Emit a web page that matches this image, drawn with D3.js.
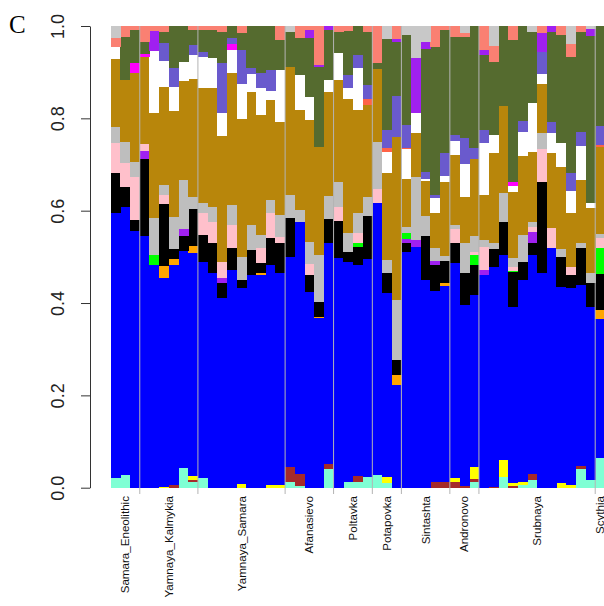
<!DOCTYPE html>
<html><head><meta charset="utf-8">
<script src="https://cdn.jsdelivr.net/npm/d3@7/dist/d3.min.js"></script>
<style>body{margin:0;background:#fff}svg{display:block}</style>
</head><body>
<svg id="chart" width="604" height="606"></svg>
<script>
// ---- data ----
const groupNames = ["Samara_Eneolithic","Yamnaya_Kalmykia","Yamnaya_Samara","Afanasievo","Poltavka","Potapovka","Sintashta","Andronovo","Srubnaya","Scythia"];
const groupSizes = [3,6,9,5,4,3,5,3,12,1];
const yTicks = [0,0.2,0.4,0.6,0.8,1.0];

const componentKeys = ["aqua","brown","yellow","blue","orange","black","purple","green","pink","gray","gold","white","magenta","tomato","slateblue","olive","purple2","salmon","gray2"];
const componentColors = ["#7FFFD4","#A52A2A","#FFFF00","#0000FF","#FFA500","#000000","#A020F0","#00FF00","#FFC0CB","#BEBEBE","#B8860B","#FFFFFF","#FF00FF","#FF6347","#6A5ACD","#556B2F","#A020F0","#FA8072","#C8C8C8"];

const aqua =      [.022,.028,0,0,0,0,0,.043,.013,.020,0,0,0,0,0,0,0,0,.012,.004,0,0,.040,0,.013,.013,.023,.028,.010,0,0,0,0,0,0,0,0,.013,0,0,.024,0,.006,.017,0,0,0,0,.040,.017,.064];
const brown =     [0,0,0,0,0,0,.006,0,.004,0,0,0,0,0,0,0,0,0,.032,.025,0,0,.011,0,0,.012,0,0,0,0,0,0,0,.013,.013,.013,.004,.005,0,.002,0,.004,0,.013,0,0,0,0,.006,0,0];
const yellow =    [0,0,0,0,0,.002,0,0,.009,0,0,0,0,.009,0,0,.006,.006,0,0,0,0,0,0,0,0,0,0,.014,0,0,0,0,0,0,.007,0,.027,0,0,.035,.007,.007,0,0,0,.011,.006,0,0,0];
const blue =      [.574,.581,.557,.545,.482,.452,.477,.470,.482,.469,.464,.410,.472,.425,.461,.461,.477,.459,.456,.546,.425,.367,.480,.497,.476,.457,.472,.588,.397,.222,.509,.521,.450,.414,.424,.466,.392,.372,.461,.476,.446,.381,.437,.474,.464,.519,.423,.428,.394,.374,.301];
const orange =    [0,0,0,0,0,.027,.012,0,.014,0,0,0,0,0,0,.004,0,0,0,0,0,.002,0,0,0,0,0,0,0,.022,0,0,0,0,.006,0,0,0,0,0,0,0,0,0,0,0,0,0,0,0,.020];
const black =     [.087,.043,.023,.167,0,.133,.023,.032,.082,.058,.065,.032,.047,.016,.054,.022,.058,.065,.083,0,.036,.034,.050,.079,.022,.040,.092,0,.043,.032,.020,0,.094,.056,.047,.045,.069,.065,0,.040,.072,.075,.040,.025,.198,0,.066,.027,.079,.052,.079];
const purple =    [0,0,0,.016,0,0,0,.015,0,0,0,.011,0,0,0,0,0,0,0,0,0,0,0,0,0,0,0,0,0,0,.009,.016,0,.009,0,0,0,0,.011,0,0,0,0,.025,0,0,0,0,0,0,0];
const green =     [0,0,0,0,.022,0,0,0,0,0,0,0,0,0,0,0,0,0,0,0,0,0,0,0,0,.009,0,0,0,0,.013,0,0,0,0,0,0,.022,0,0,0,.003,0,0,0,0,0,0,0,0,.055];
const pink =      [.064,.051,.094,.016,0,.020,0,0,0,.047,.046,.036,.050,0,0,.032,.054,.014,0,0,.025,0,0,.032,0,.020,0,.030,0,0,0,0,0,0,0,.029,0,.007,.050,0,0,.009,0,.011,.072,.043,0,.017,0,0,.022];
const gray =      [.036,.047,.032,0,.079,.022,.069,.105,.025,.022,.032,0,.043,.050,.054,.029,.029,.047,.050,.025,.047,.101,.050,.054,.040,.043,.043,.103,.029,.130,.014,.137,.043,.027,.011,.009,.065,.034,.015,.011,.062,.018,.058,.011,.034,0,.018,0,.011,.022,.010];
const gold =      [.146,.135,.193,.188,.227,.213,.229,.214,.255,.249,.258,.271,.285,.300,.289,.260,.217,.202,.278,.217,.264,.235,.227,.220,.290,.225,.199,.157,.188,.352,.103,.094,.076,.076,.162,.152,.100,.168,.097,.195,.189,.144,.171,.152,.107,.162,.177,.117,.137,.141,.188];
const white =     [.027,0,0,0,.135,.056,.053,.042,.052,.067,.065,.051,.050,.076,.040,.058,.018,.112,0,.076,.050,0,.025,.058,.024,.089,0,0,.047,0,.065,.045,.005,.032,.012,.031,.072,0,.113,.040,0,.013,.053,.105,.022,.045,.051,.049,.074,.012,0];
const magenta =   [0,0,.020,.007,0,0,0,0,0,0,0,0,.013,0,0,0,0,0,0,0,0,0,0,0,0,0,0,0,0,0,0,0,0,0,0,0,0,0,0,0,0,.009,0,0,0,0,0,0,0,0,0];
const tomato =    [0,0,0,0,0,0,0,0,0,0,0,0,0,0,0,0,0,0,0,0,0,0,0,0,0,0,.011,0,.007,0,.003,0,0,0,0,0,0,0,0,0,0,0,0,0,0,0,0,0,0,0,.004];
const slateblue = [0,0,0,0,0,.040,.040,0,.022,.012,0,.108,.012,.074,.011,.032,.047,0,0,0,0,0,0,0,.029,.029,.032,0,.040,.089,.049,0,.016,.007,.049,.012,.056,.022,.028,0,0,0,.022,0,.047,.022,0,.039,.031,0,.041];
const olive =     [0,.092,.072,.025,0,.023,.092,.078,.032,.047,.061,.068,.027,.035,.092,.102,.095,.065,.076,.079,.129,.172,.108,.047,.095,.063,.115,.014,.196,.118,.195,0,.265,.321,.267,.213,.220,.265,.162,.159,.173,.307,.207,.155,0,.197,.235,.250,.217,.361,.217];
const purple2 =   [0,0,0,0,.043,0,0,0,0,0,0,0,0,0,0,0,0,0,0,0,.016,.005,.009,0,0,0,0,0,0,.005,0,.118,.016,0,0,0,0,0,.011,0,0,0,0,0,.040,.012,0,0,0,.015,0];
const salmon =    [.018,.024,.009,.035,.011,.013,0,0,.009,.009,.009,.012,0,.016,0,0,0,.030,0,.027,.009,.084,0,.012,.011,0,.012,.079,0,.029,0,0,0,.045,.009,.023,.007,0,.052,.034,0,.030,0,0,.016,0,.019,.029,.012,0,0];
const gray2 =     [.027,0,0,0,0,0,0,0,0,0,0,0,0,0,0,0,0,0,.012,0,0,0,0,0,0,0,0,0,.029,0,.019,.070,.034,0,0,0,.016,0,0,.043,0,0,0,.012,0,0,0,.039,0,.007,0];

const series = {aqua,brown,yellow,blue,orange,black,purple,green,pink,gray,gold,white,magenta,tomato,slateblue,olive,purple2,salmon,gray2};

// ---- build rows (each individual's ancestry fractions, normalised to 1) ----
const nBars = blue.length;
const rows = d3.range(nBars).map(i => {
  const r = {};
  let s = 0;
  componentKeys.forEach(k => { r[k] = series[k][i]; s += r[k]; });
  componentKeys.forEach(k => { r[k] = r[k] / s; });
  return r;
});

const svg = d3.select("#chart");
const x = d3.scaleLinear().domain([0, nBars]).range([110.7, 604.9]);
const y = d3.scaleLinear().domain([0, 1]).range([487.7, 26]);
const color = d3.scaleOrdinal().domain(componentKeys).range(componentColors);

const stacked = d3.stack().keys(componentKeys)(rows);

svg.append("g").attr("shape-rendering","crispEdges")
  .selectAll("g").data(stacked).join("g")
  .attr("fill", d => color(d.key))
  .selectAll("rect").data(d => d.map((v,i)=>({v,i}))).join("rect")
  .attr("x", d => x(d.i))
  .attr("width", d => x(d.i+1) - x(d.i) + 0.3)
  .attr("y", d => y(d.v[1]))
  .attr("height", d => Math.max(0, y(d.v[0]) - y(d.v[1])));

// group separators
const bounds = [];
let acc = 0;
groupSizes.forEach((s,i) => { acc += s; if (i < groupSizes.length-1) bounds.push(acc); });
svg.append("g").selectAll("line").data(bounds).join("line")
  .attr("x1", d => x(d)).attr("x2", d => x(d))
  .attr("y1", y(1)).attr("y2", 494)
  .attr("stroke", "#b4b4b4").attr("stroke-width", 1);

// group labels
let start = 0;
const centers = groupSizes.map(s => { const c = start + s/2; start += s; return c; });
svg.append("g").selectAll("text").data(groupNames).join("text")
  .attr("transform", (d,i) => `translate(${x(centers[i])},496) rotate(-90)`)
  .attr("dy", "0.35em")
  .attr("text-anchor", "end")
  .attr("font-family", "Liberation Sans, Arial, sans-serif")
  .attr("font-size", "11.6px")
  .attr("fill", "#111")
  .text(d => d);

// y axis
const yAxis = d3.axisLeft(y).tickValues(yTicks).tickFormat(d3.format(".1f")).tickSize(9).tickSizeOuter(0);
const ga = svg.append("g").attr("transform", "translate(90,0)").call(yAxis);
ga.select(".domain").attr("stroke", "#333");
ga.selectAll(".tick line").attr("stroke", "#333");
ga.selectAll(".tick text")
  .attr("x", null).attr("y", null).attr("dy", "0.35em")
  .attr("transform", "translate(-32,0) rotate(-90)")
  .attr("text-anchor", "middle")
  .attr("font-family", "Liberation Sans, Arial, sans-serif")
  .attr("font-size", "18px")
  .attr("fill", "#222");

// panel letter
svg.append("text").attr("x", 9).attr("y", 33)
  .attr("font-family", "Liberation Serif, Times New Roman, serif")
  .attr("font-size", "25px").attr("fill", "#000").text("C");
</script>
</body></html>
